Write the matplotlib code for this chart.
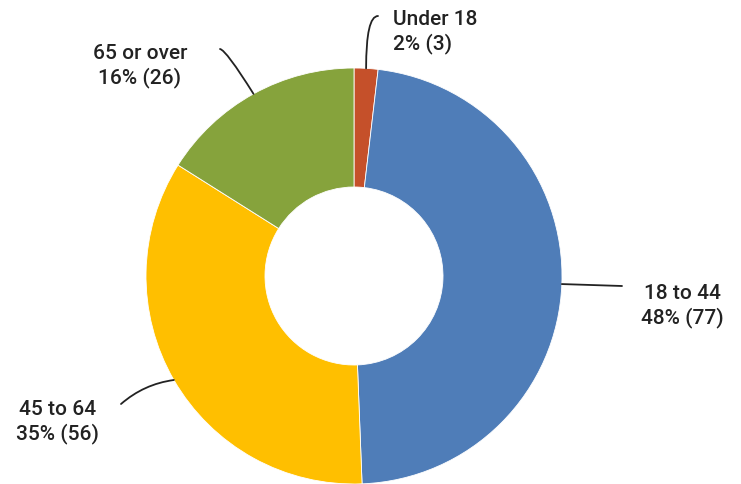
import numpy as np
import matplotlib.pyplot as plt

categories = ['Under 18', '18 to 44', '45 to 64', '65 or over']
counts = [3, 77, 56, 26]
colors = ['#C5502A', '#4F7DB8', '#FFBF00', '#86A33C']

# label placement in pixel coords (y measured from top)
text_pos = [(393, 32), (682, 306), (58, 422), (140, 66)]
text_ha = ['left', 'center', 'center', 'center']
line_end = [(378, 17), (622, 287), (121, 405), (220, 50)]
conn = ['angle3,angleA=0,angleB=90', 'arc3,rad=0', 'arc3,rad=-0.15',
        'angle3,angleA=-10,angleB=-58']

W, H = 741, 485
cx, cy, R, r = 354, 277, 208, 89

fig = plt.figure(figsize=(W / 100, H / 100), dpi=100)
ax = fig.add_axes([0, 0, 1, 1])
ax.axis('off')

wedges, _ = ax.pie(counts, colors=colors, startangle=90, counterclock=False,
                   center=(cx, H - cy), radius=R,
                   wedgeprops=dict(width=R - r, edgecolor='white', linewidth=0.6))
ax.set_xlim(0, W)
ax.set_ylim(0, H)

total = sum(counts)
cum = np.cumsum([0] + counts)
for i, (cat, n) in enumerate(zip(categories, counts)):
    ang = np.deg2rad(90 - (cum[i] + n / 2) / total * 360)
    px = cx + R * np.cos(ang)
    py = H - cy + R * np.sin(ang)
    lx, ly = line_end[i]
    ax.annotate('', xy=(px, py), xytext=(lx, H - ly),
                arrowprops=dict(arrowstyle='-', color='#222222', lw=1.3,
                                shrinkA=0, shrinkB=0, connectionstyle=conn[i]))
    pct = round(n / total * 100)
    tx, ty = text_pos[i]
    ax.text(tx, H - ty, '%s\n%d%% (%d)' % (cat, pct, n), ha=text_ha[i], va='center',
            multialignment=text_ha[i],
            fontsize=15, fontfamily='Roboto', fontweight='medium', color='#222222',
            linespacing=1.25)

fig.savefig('out.png', dpi=100)
